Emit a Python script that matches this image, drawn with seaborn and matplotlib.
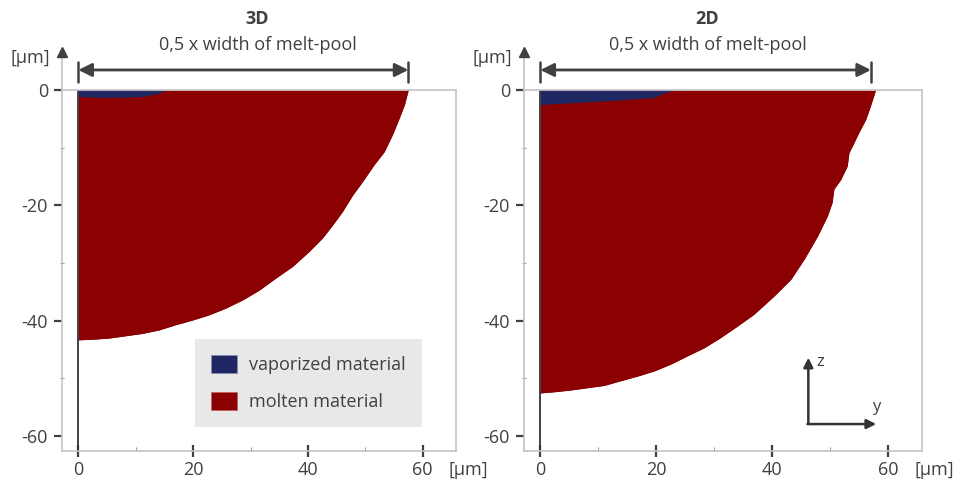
import matplotlib.pyplot as plt
from matplotlib.patches import Patch
import seaborn as sns

# Panel names and shared labels
panels = ["3D", "2D"]
subtitle = "0,5 x width of melt-pool"
legend_labels = ["vaporized material", "molten material"]
xticks = [0, 20, 40, 60]
yticks = [0, -20, -40, -60]

# boundary of the molten zone (lateral position y / depth z, in µm)
melt_y_3d = [0, 2.4, 5.3, 8.2, 11.1, 14.0, 16.9, 19.8, 22.7, 25.7, 28.6, 31.5, 34.4, 37.3,
             40.2, 42.5, 44.3, 46.0, 47.8, 49.5, 51.5, 53.3, 54.7, 55.9, 56.8, 57.4, 57.5]
melt_z_3d = [-43.3, -43.2, -43.0, -42.6, -42.2, -41.6, -40.7, -39.9, -39.0, -37.8, -36.4, -34.7, -32.6, -30.6,
             -28.0, -25.7, -23.4, -21.1, -18.2, -15.9, -13.0, -10.7, -7.8, -4.9, -2.6, -0.3, 0]
vap_y_3d = [0, 5.3, 11.1, 14.0, 15.2]
vap_z_3d = [-1.15, -1.3, -1.15, -0.6, 0]

melt_y_2d = [0, 2.4, 5.2, 8.1, 11.0, 13.8, 16.7, 19.6, 22.5, 25.3, 28.2, 31.1, 34.0, 36.8, 40.3,
             43.2, 45.5, 47.8, 49.5, 50.3, 50.6, 51.8, 52.9, 53.2, 53.8, 54.9, 56.1, 56.9, 57.8]
melt_z_2d = [-52.5, -52.3, -52.0, -51.6, -51.2, -50.4, -49.6, -48.7, -47.5, -46.1, -44.7, -42.9, -40.9, -38.9, -35.7,
             -32.8, -29.3, -25.3, -21.8, -19.5, -17.2, -15.5, -13.2, -10.9, -9.7, -7.4, -5.1, -2.8, 0]
vap_y_2d = [0, 11.0, 19.6, 20.7, 22.9]
vap_z_2d = [-2.5, -1.9, -1.3, -0.8, 0]

# half width of melt pool (dimension arrow)
half_width = [57.5, 57.0]

RED = "#8b0000"
BLUE = "#1f2863"
TXT = "#404040"
SPINE = "#c4c4c4"

sns.set_theme(style="white")
plt.rcParams["font.family"] = ["Open Sans", "DejaVu Sans"]
plt.rcParams["axes.unicode_minus"] = False

fig = plt.figure(figsize=(9.57, 4.83), dpi=100)
axes = [fig.add_axes([0.0648, 0.0671, 0.4117, 0.7466]),
        fig.add_axes([0.5475, 0.0671, 0.4159, 0.7466])]

data = [(melt_y_3d, melt_z_3d, vap_y_3d, vap_z_3d),
        (melt_y_2d, melt_z_2d, vap_y_2d, vap_z_2d)]
title_x = [31.2, 28.8]

for i, ax in enumerate(axes):
    my, mz, vy, vz = data[i]
    ax.fill_between(my, mz, 0, color=RED, lw=0)
    sns.lineplot(x=my, y=mz, sort=False, estimator=None, color=RED, lw=0.8, ax=ax)
    ax.fill_between(vy, vz, 0, color=BLUE, lw=0)
    ax.axvline(0, color="#333333", lw=1.3)

    ax.set_xlim(-2.85, 65.8)
    ax.set_ylim(-62.5, 0)
    ax.set_xticks(xticks)
    ax.set_yticks(yticks)
    ax.set_xticks([10, 30, 50], minor=True)
    ax.set_yticks([-10, -30, -50], minor=True)
    ax.tick_params(axis="y", which="major", direction="out", length=6, width=1.6,
                   color=TXT, labelcolor=TXT, labelsize=13, pad=4, left=True)
    ax.tick_params(axis="y", which="minor", direction="inout", length=3, width=0.8,
                   color="#999999", left=True)
    ax.tick_params(axis="x", which="major", direction="inout", length=9, width=1.6,
                   color=TXT, labelcolor=TXT, labelsize=13, pad=3, bottom=True)
    ax.tick_params(axis="x", which="minor", direction="in", length=3, width=0.8,
                   color="#999999", bottom=True)
    for s in ax.spines.values():
        s.set_color(SPINE)
        s.set_linewidth(1.2)
    ax.set_xlabel("")
    ax.set_ylabel("")

    # y-axis arrow with unit
    ax.plot([0, 0], [1.0, 1.1], transform=ax.transAxes, color=SPINE, lw=1.2, clip_on=False)
    ax.plot([0], [1.105], transform=ax.transAxes, marker="^", ms=7, color=TXT, clip_on=False)
    ax.text(-0.03, 1.09, "[µm]", transform=ax.transAxes, ha="right", va="center",
            fontsize=13, color=TXT)
    ax.text(0.98, -0.054, "[µm]", transform=ax.transAxes, ha="left", va="center",
            fontsize=13, color=TXT)

    # titles
    tr = ax.get_xaxis_transform()
    ax.text(title_x[i], 1.197, panels[i], transform=tr, ha="center", va="center",
            fontsize=13, fontweight="bold", color=TXT)
    ax.text(title_x[i], 1.125, subtitle, transform=tr, ha="center", va="center",
            fontsize=13, color=TXT)

    # dimension arrow: 0,5 x width of melt pool
    hw = half_width[i]
    ax.annotate("", xy=(0, 1.0555), xytext=(hw, 1.0555), xycoords=tr, textcoords=tr,
                arrowprops=dict(arrowstyle="<|-|>", color=TXT, lw=2, mutation_scale=20,
                                shrinkA=0, shrinkB=0), annotation_clip=False)
    for xe in (0, hw):
        ax.plot([xe, xe], [1.023, 1.078], transform=tr, color=TXT, lw=1.8, clip_on=False)

# legend in the 3D panel
handles = [Patch(facecolor=BLUE, edgecolor="#8a90b8", lw=0.5),
           Patch(facecolor=RED, edgecolor="#c06060", lw=0.5)]
leg = axes[0].legend(handles, legend_labels, loc="upper left", bbox_to_anchor=(0.338, 0.309),
                     frameon=True, fancybox=False, facecolor="#e8e8e8", edgecolor="none",
                     framealpha=1, fontsize=13, handlelength=1.4, handleheight=1.1,
                     labelspacing=1.0, handletextpad=0.7, borderpad=0.9, borderaxespad=0)
for t in leg.get_texts():
    t.set_color(TXT)

# coordinate system in the 2D panel
ax = axes[1]
ox, oz = 46.2, -57.9
ax.annotate("", xy=(ox, -46.4), xytext=(ox, oz),
            arrowprops=dict(arrowstyle="-|>", color="#333333", lw=1.8, mutation_scale=14,
                            shrinkA=0, shrinkB=0))
ax.annotate("", xy=(57.9, oz), xytext=(ox - 0.15, oz),
            arrowprops=dict(arrowstyle="-|>", color="#333333", lw=1.8, mutation_scale=14,
                            shrinkA=0, shrinkB=0))
ax.text(48.2, -47.2, "z", fontsize=12, color=TXT, ha="center", va="center")
ax.text(57.9, -55.0, "y", fontsize=12, color=TXT, ha="center", va="center")

fig.savefig("out.png", dpi=100)
